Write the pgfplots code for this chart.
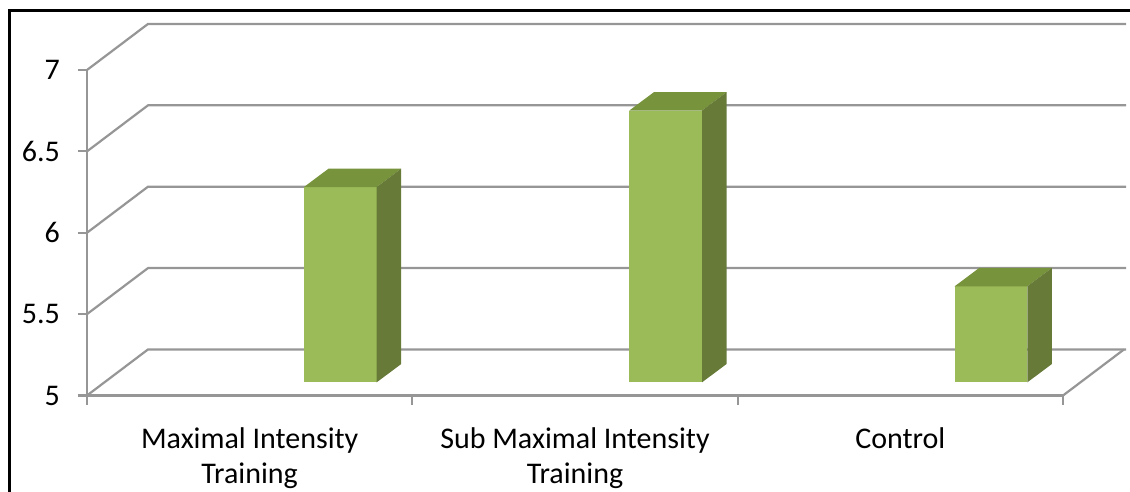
\documentclass[border=0pt]{standalone}
\usepackage{pgfplots}
\pgfplotsset{compat=1.18}
\usepackage{pgfplotstable}
\usepackage{fontspec}
\setmainfont{Carlito}
\definecolor{barfront}{RGB}{155,187,89}
\definecolor{bartop}{RGB}{119,147,60}
\definecolor{barside}{RGB}{103,122,56}
\definecolor{gridc}{RGB}{150,150,150}

\pgfplotstableread{
idx v
0 6.20
1 6.67
2 5.59
}\data

\begin{document}
\fontsize{30}{35}\selectfont
\begin{tikzpicture}[x=1pt,y=1pt]
\clip (0,0) rectangle (1130,491);
\begin{axis}[
  at={(87pt,95.5pt)}, anchor=south west,
  scale only axis, width=976pt, height=325.5pt,
  xmin=0, xmax=3, ymin=5, ymax=7,
  clip=false,
  axis x line*=bottom, axis y line*=left,
  axis line style={draw=gridc, line width=2.2pt},
  tick style={draw=gridc, line width=2.2pt},
  tick align=outside,
  ytick={5,5.5,6,6.5,7},
  xtick={0,1,2,3}, xticklabels={},
  major tick length=9pt,
  extra x ticks={0.5,1.5,2.5},
  extra x tick labels={{Maximal Intensity\\Training},{Sub Maximal Intensity\\Training},{Control}},
  extra x tick style={major tick length=0pt, tick style={draw=none}},
  x tick label style={align=center, yshift=-22pt, font=\fontsize{30}{35}\selectfont},
  y tick label style={xshift=-8pt, font=\fontsize{30}{35}\selectfont},
  /pgf/number format/assume math mode=true,
]
% grid lines (left wall diagonals and back wall)
\addplot[gridc, line width=2.2pt] coordinates {(0,5) (0.1875,5.283) (3.194,5.283)};
\addplot[gridc, line width=2.2pt] coordinates {(0,5.5) (0.1875,5.783) (3.194,5.783)};
\addplot[gridc, line width=2.2pt] coordinates {(0,6) (0.1875,6.283) (3.194,6.283)};
\addplot[gridc, line width=2.2pt] coordinates {(0,6.5) (0.1875,6.783) (3.194,6.783)};
\addplot[gridc, line width=2.2pt] coordinates {(0,7) (0.1875,7.283) (3.194,7.283)};
% floor right edge
\addplot[gridc, line width=2.2pt] coordinates {(3,5) (3.1875,5.283)};
% bars
\pgfplotsinvokeforeach{0,1,2}{
  \pgfplotstablegetelem{#1}{v}\of\data
  \pgfmathsetmacro\T{\pgfplotsretval+0.081}
  \pgfmathsetmacro\L{#1+0.667}
  \pgfmathsetmacro\R{#1+0.8905}
  \pgfmathsetmacro\Ld{#1+0.667+0.0753}
  \pgfmathsetmacro\Rd{#1+0.8905+0.0753}
  \pgfmathsetmacro\Td{\T+0.1126}
  \pgfmathsetmacro\Bd{5.081+0.1126}
  \edef\doplot{%
    \noexpand\addplot[fill=barfront, draw=none] coordinates {(\L,5.081) (\R,5.081) (\R,\T) (\L,\T)} -- cycle;
    \noexpand\addplot[fill=bartop, draw=none] coordinates {(\L,\T) (\R,\T) (\Rd,\Td) (\Ld,\Td)} -- cycle;
    \noexpand\addplot[fill=barside, draw=none] coordinates {(\R,5.081) (\Rd,\Bd) (\Rd,\Td) (\R,\T)} -- cycle;
  }\doplot
}
\end{axis}
\draw[black, line width=3pt] (9.5,480.5) rectangle (1140,-10);
\end{tikzpicture}
\end{document}
